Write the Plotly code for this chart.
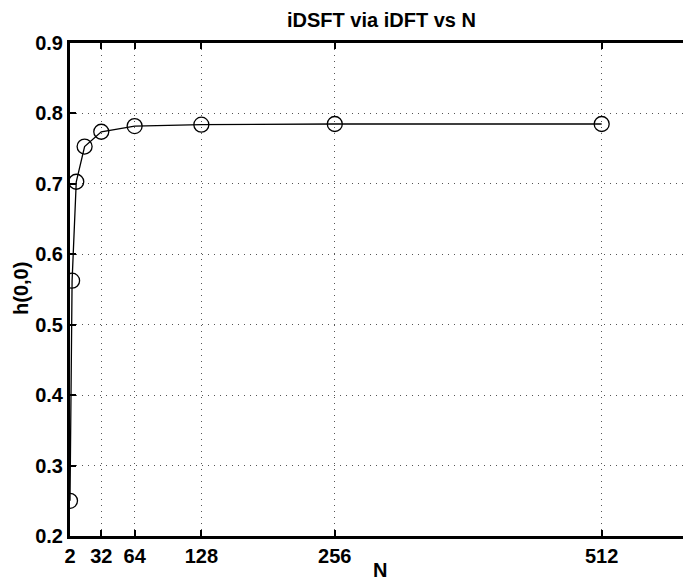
import plotly.graph_objects as go

N_values = [2, 4, 8, 16, 32, 64, 128, 256, 512]
h00_values = [0.25, 0.5625, 0.703, 0.753, 0.774, 0.782, 0.784, 0.785, 0.785]
x_ticks = [2, 32, 64, 128, 256, 512]
y_ticks = [0.2, 0.3, 0.4, 0.5, 0.6, 0.7, 0.8, 0.9]
title_text = "iDSFT via iDFT vs N"
x_label = "N"
y_label = "h(0,0)"

W, H = 683, 581
ML, MT, MB, MR = 70, 43, 45, 0
PW, PH = W - ML - MR, H - MT - MB

fig = go.Figure()
fig.add_trace(go.Scatter(
    x=N_values, y=h00_values, mode="lines+markers",
    line=dict(color="black", width=1.3),
    marker=dict(symbol="circle-open", size=15, color="black", line=dict(width=1.3)),
    showlegend=False,
))

font = dict(family="Liberation Sans, Arial, sans-serif", size=20, color="black", weight="bold")

fig.update_layout(
    width=W, height=H,
    margin=dict(l=ML, r=MR, t=MT, b=MB, autoexpand=False),
    paper_bgcolor="white", plot_bgcolor="white",
    font=font,
    xaxis=dict(
        range=[2, 590], tickvals=x_ticks, ticktext=[str(v) for v in x_ticks],
        ticks="inside", ticklen=6, tickwidth=2, tickcolor="black",
        showline=True, linewidth=3, linecolor="black", mirror="allticks",
        showgrid=True, gridcolor="#555", griddash="1px,5px", gridwidth=1,
        zeroline=False, tickfont=font, automargin=False,
    ),
    yaxis=dict(
        range=[0.2, 0.9], tickvals=y_ticks, ticktext=[f"{v:.1f}" for v in y_ticks],
        ticks="inside", ticklen=6, tickwidth=2, tickcolor="black",
        showline=True, linewidth=3, linecolor="black", mirror=False,
        showgrid=True, gridcolor="#555", griddash="1px,5px", gridwidth=1,
        zeroline=False, tickfont=font, automargin=False,
    ),
    annotations=[
        dict(text=title_text, xref="paper", yref="paper",
             x=(381 - ML) / PW, y=1 + (MT - 20) / PH,
             xanchor="center", yanchor="middle", showarrow=False, font=font),
        dict(text=x_label, xref="paper", yref="paper",
             x=(380 - ML) / PW, y=-(570 - (H - MB)) / PH,
             xanchor="center", yanchor="middle", showarrow=False, font=font),
        dict(text=y_label, xref="paper", yref="paper", textangle=-90,
             x=-(ML - 21) / PW, y=(H - MB - 289) / PH,
             xanchor="center", yanchor="middle", showarrow=False, font=font),
    ],
)

fig.write_html(
    "out.html",
    config={"displayModeBar": False},
    post_script="document.body.style.margin='0';document.body.style.overflow='hidden';",
)
